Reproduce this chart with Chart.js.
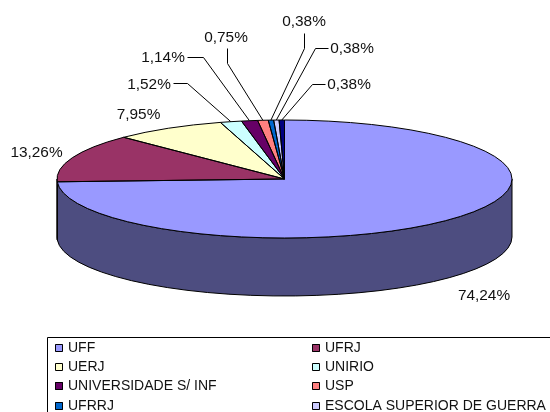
<!DOCTYPE html>
<html>
<head>
<meta charset="utf-8">
<style>html,body{margin:0;padding:0;background:#fff;overflow:hidden}canvas{display:block}</style>
<script src="https://cdn.jsdelivr.net/npm/chart.js@4"></script>
</head>
<body>
<canvas id="c" width="550" height="412"></canvas>
<script>
const categories = ['UFF','UFRJ','UERJ','UNIRIO','UNIVERSIDADE S/ INF','USP','UFRRJ','ESCOLA SUPERIOR DE GUERRA',''];
const values = [74.24,13.26,7.95,1.52,1.14,0.75,0.38,0.38,0.38];
const colors = ['#9999FF','#993366','#FFFFCC','#CCFFFF','#660066','#FF8080','#0066CC','#CCCCFF','#000080'];
const wallColors = ['#4D4D80','#4D1A33','#808066','#668080','#330033','#804040','#003366','#666680','#000040'];

const LABEL_FONT = '15.4px "Liberation Sans", Arial, sans-serif';
const LEGEND_FONT = '14px "Liberation Sans", Arial, sans-serif';
const RADIUS = 227.5, SQUASH = 0.2593, DEPTH = 58;
const labelSpots = [
  {x:484,y:296},{x:36.5,y:153},{x:138.5,y:115},
  {x:149,y:85,elbow:[[173,83],[187,83]]},
  {x:163,y:58,elbow:[[187,57],[203,57]]},
  {x:226,y:38,elbow:[[227,48],[227,63]]},
  {x:304,y:22,elbow:[[304,33],[304,48]]},
  {x:352,y:49,elbow:[[328,48],[315,48]]},
  {x:349,y:85,elbow:[[325,84],[312,84]]}
];
const legendBox = {x:47,y:337,w:520,h:90,cols:[55,312],textGap:13,rowY:[348,367,386,406],swatch:8};

const fmt = v => v.toFixed(2).replace('.', ',') + '%';

const pie3d = {
  id:'pie3d',
  beforeDatasetsDraw(chart){
    const ctx = chart.ctx, arcs = chart.getDatasetMeta(0).data;
    const cx = arcs[0].x, cy = arcs[0].y, ry = RADIUS*SQUASH;
    ctx.save();
    ctx.lineWidth = 1; ctx.strokeStyle = '#000';
    arcs.forEach((a,i)=>{
      const s = Math.max(a.startAngle,0), e = Math.min(a.endAngle,Math.PI);
      if (e <= s) return;
      ctx.beginPath();
      ctx.ellipse(cx,cy,a.outerRadius,ry,0,s,e,false);
      ctx.ellipse(cx,cy+DEPTH,a.outerRadius,ry,0,e,s,true);
      ctx.closePath();
      ctx.fillStyle = wallColors[i];
      ctx.fill(); ctx.stroke();
    });
    ctx.restore();
    ctx.save();
    ctx.translate(0,cy); ctx.scale(1,SQUASH); ctx.translate(0,-cy);
  },
  afterDatasetsDraw(chart){
    const ctx = chart.ctx, arcs = chart.getDatasetMeta(0).data;
    ctx.restore();
    const cx = arcs[0].x, cy = arcs[0].y, ry = RADIUS*SQUASH;
    ctx.save();
    ctx.lineWidth = 1; ctx.strokeStyle = '#000'; ctx.lineJoin='round';
    arcs.forEach(a=>{
      ctx.beginPath();
      ctx.moveTo(cx,cy);
      ctx.ellipse(cx,cy,a.outerRadius,ry,0,a.startAngle,a.endAngle,false);
      ctx.closePath();
      ctx.stroke();
    });
    // leader lines
    arcs.forEach((a,i)=>{
      const sp = labelSpots[i];
      if(!sp.elbow) return;
      const m = (a.startAngle+a.endAngle)/2;
      ctx.beginPath();
      ctx.moveTo(sp.elbow[0][0]+.5,sp.elbow[0][1]+.5);
      ctx.lineTo(sp.elbow[1][0]+.5,sp.elbow[1][1]+.5);
      ctx.lineTo(cx+a.outerRadius*Math.cos(m),cy+ry*Math.sin(m));
      ctx.stroke();
    });
    // labels
    ctx.fillStyle='#111'; ctx.font=LABEL_FONT; ctx.textAlign='center'; ctx.textBaseline='middle';
    values.forEach((v,i)=>ctx.fillText(fmt(v),labelSpots[i].x,labelSpots[i].y));
    // legend
    const L = legendBox;
    ctx.font=LEGEND_FONT;
    ctx.strokeStyle='#000'; ctx.lineWidth=1;
    ctx.strokeRect(L.x+.5,L.y+.5,L.w,L.h);
    ctx.textAlign='left';
    categories.forEach((name,i)=>{
      const row = Math.floor(i/2), col = i%2;
      if(row>=L.rowY.length) return;
      const x=L.cols[col], y=L.rowY[row];
      ctx.fillStyle=colors[i];
      ctx.fillRect(x,y-L.swatch/2,L.swatch,L.swatch);
      ctx.strokeRect(x+.5,y-L.swatch/2+.5,L.swatch-1,L.swatch-1);
      ctx.fillStyle='#111';
      ctx.fillText(name,x+L.textGap,y);
    });
    ctx.restore();
  }
};

new Chart(document.getElementById('c'),{
  type:'pie',
  data:{labels:categories,datasets:[{data:values,backgroundColor:colors,borderWidth:0,clip:false}]},
  options:{
    responsive:false,animation:false,radius:RADIUS,
    layout:{padding:{left:19,bottom:54,top:0,right:0}},
    plugins:{legend:{display:false},tooltip:{enabled:false},title:{display:false}}
  },
  plugins:[pie3d]
});
</script>
</body>
</html>
